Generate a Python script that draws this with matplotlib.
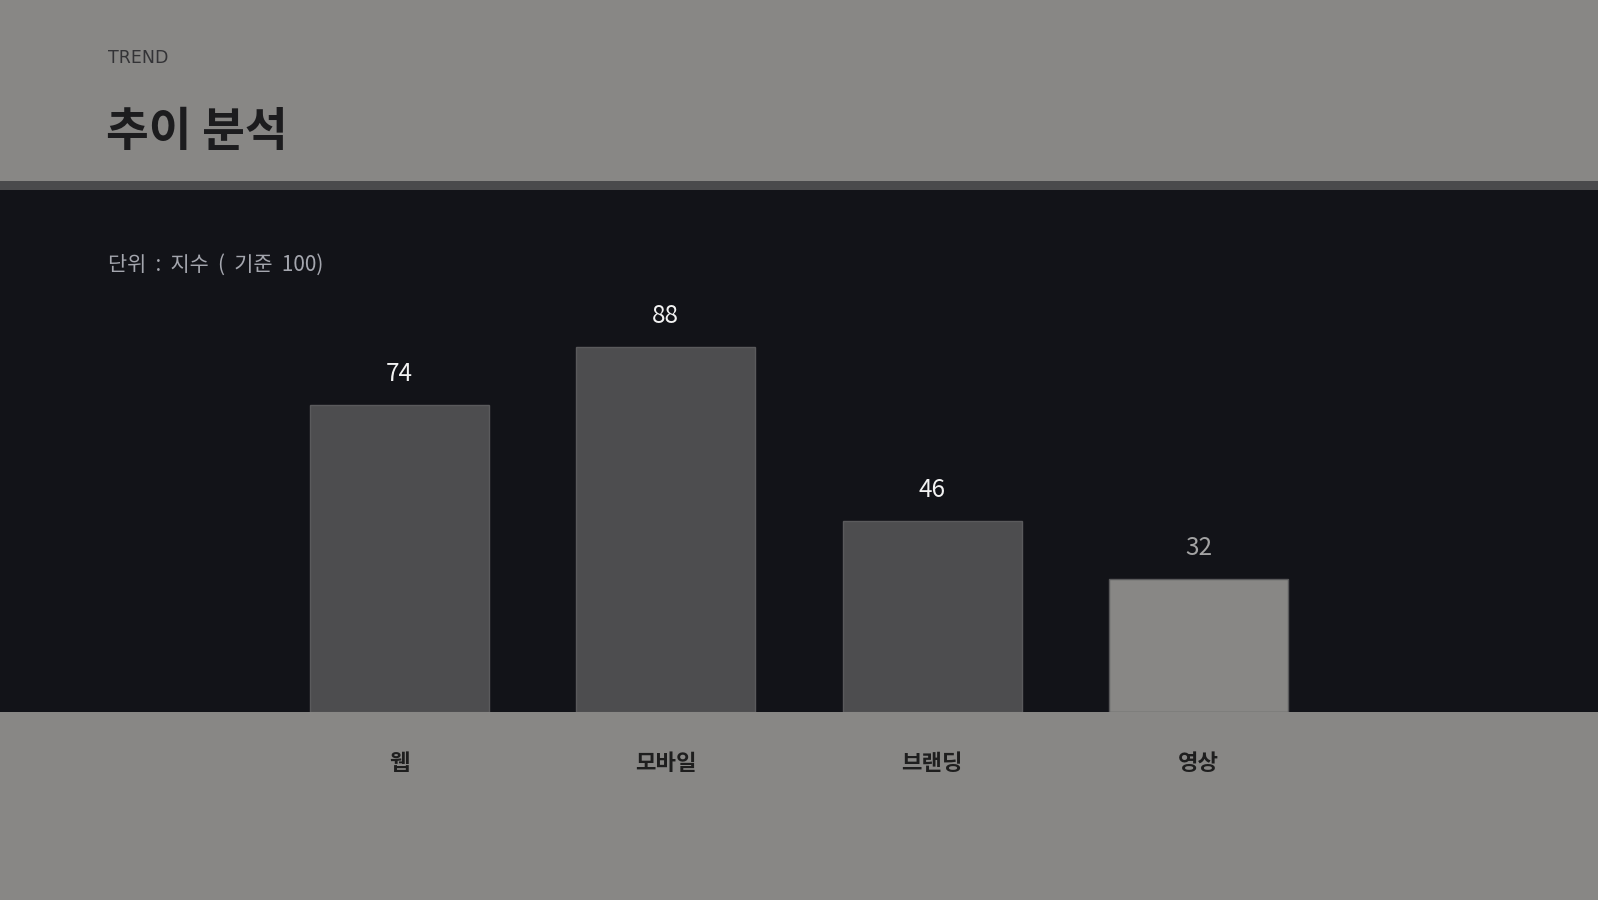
import matplotlib.pyplot as plt
from matplotlib.patches import Rectangle

plt.rcParams['font.family'] = ['Noto Sans CJK KR', 'DejaVu Sans']

categories = ['웹', '모바일', '브랜딩', '영상']
values = [74, 88, 46, 32]
bar_colors = ['#4d4d4f', '#4d4d4f', '#4d4d4f', '#888785']
label_colors = ['#f2f2f2', '#f2f2f2', '#f2f2f2', '#a3a3a3']

W, H = 1598, 900
fig = plt.figure(figsize=(W / 100, H / 100), dpi=100)
fig.patch.set_facecolor('#888785')

# dark chart band + separator stripe (pixel coords from the top)
fig.patches.append(Rectangle((0, 1 - 712 / H), 1, (712 - 190) / H, transform=fig.transFigure,
                             facecolor='#121318', edgecolor='none', zorder=-2))
fig.patches.append(Rectangle((0, 1 - 190 / H), 1, 9 / H, transform=fig.transFigure,
                             facecolor='#4a4a4c', edgecolor='none', zorder=-2))

# header
fig.text(108 / W, 1 - 58 / H, 'TREND', fontsize=12.5, family='DejaVu Sans', color='#333336',
         va='center', ha='left')
fig.text(106 / W, 1 - 132 / H, '추이 분석', fontsize=33.5, fontweight='bold', color='#1c1c1e',
         va='center', ha='left')
fig.text(108 / W, 1 - 265 / H, '단위  :  지수  (  기준  100)', fontsize=15, color='#a4a6ae',
         va='center', ha='left')

# axes: one category unit = 266.3 px, 100 units = 415 px
unit = 266.3
ax = fig.add_axes([(399.5 - unit / 2) / W, 188 / H, 4 * unit / W, 415 / H])
ax.patch.set_alpha(0)
for s in ax.spines.values():
    s.set_visible(False)
ax.set_xlim(-0.5, 3.5)
ax.set_ylim(0, 100)
ax.set_xticks([])
ax.set_yticks([])

x = range(len(categories))
bars = ax.bar(x, values, width=0.672, color=bar_colors, edgecolor='#5a5a5c', linewidth=1)
for bar, v, c in zip(bars, values, label_colors):
    ax.annotate(str(v), (bar.get_x() + bar.get_width() / 2, v), xytext=(0, 22.5),
                textcoords='offset points', ha='center', va='center', fontsize=17.5,
                fontweight='medium', color=c)
for i, cat in zip(x, categories):
    ax.annotate(cat, (i, 0), xytext=(0, -37), textcoords='offset points', ha='center',
                va='center', fontsize=16, fontweight='bold', color='#1e1e1e')

fig.savefig('out.png', dpi=100, facecolor=fig.get_facecolor())
